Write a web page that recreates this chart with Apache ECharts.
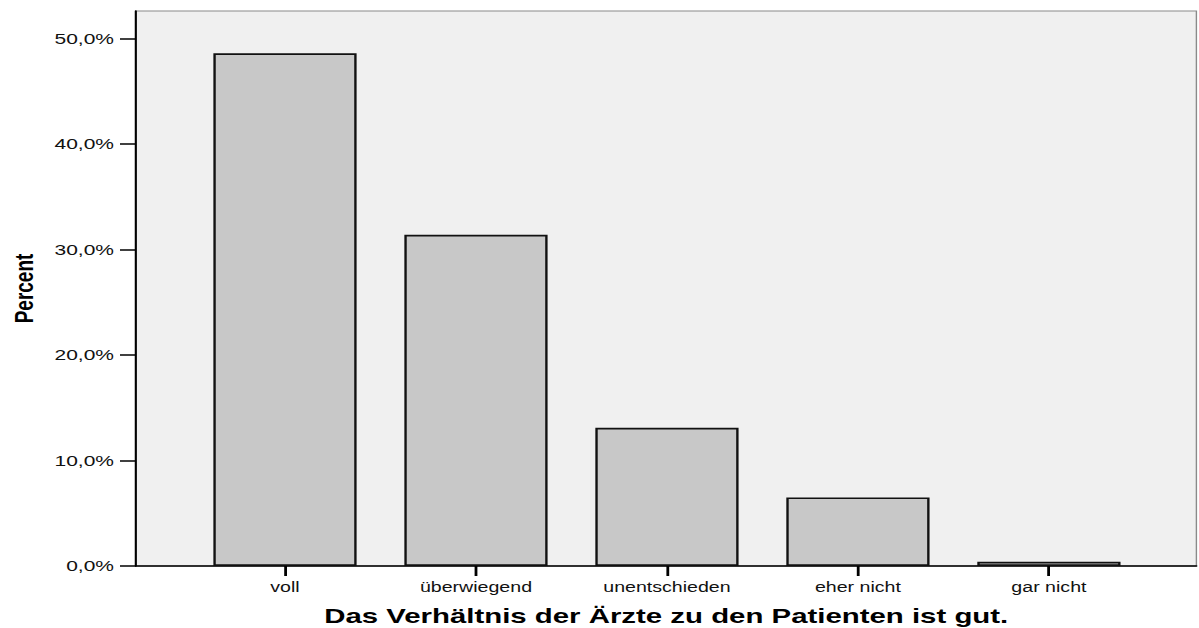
<!DOCTYPE html>
<html>
<head>
<meta charset="utf-8">
<script src="https://cdn.jsdelivr.net/npm/echarts@6/dist/echarts.min.js"></script>
<style>
  html, body { margin: 0; padding: 0; background: #fff; overflow: hidden; }
  /* Die Vorlage ist horizontal gestreckt, daher wird das ganze Diagramm gestreckt */
  #chart { width: 856.43px; height: 628px; transform-origin: 0 0; transform: scaleX(1.4); }
</style>
</head>
<body>
<div id="chart"></div>
<script>
// Antwortkategorien und Prozentwerte
const categories = ['voll', 'überwiegend', 'unentschieden', 'eher nicht', 'gar nicht'];
const percentValues = [48.6, 31.4, 13.1, 6.5, 0.4];
const yTicks = [0, 10, 20, 30, 40, 50];

const xTitle = 'Das Verhältnis der Ärzte zu den Patienten ist gut.';
const yTitle = 'Percent';

const S = 1.4;          // horizontaler Streckfaktor
const W = 1199 / S;     // ungestreckte Breite
const yMax = 52.6;
const fontMain = 'Liberation Sans, Arial, sans-serif';

const chart = echarts.init(document.getElementById('chart'), null, { renderer: 'svg' });

const option = {
  animation: false,
  grid: [
    // Rahmen mit Hintergrund und y-Achse
    {
      left: 136 / S, right: W - 1197 / S, top: 11, bottom: 62,
      containLabel: false,
      outerBoundsMode: 'none',
      show: true,
      backgroundColor: '#f0f0f0',
      borderColor: '#8a8a8a',
      borderWidth: 1
    },
    // innerer Bereich für die Balken
    {
      left: 189.5 / S, right: W - 1145 / S, top: 11, bottom: 62,
      containLabel: false,
      outerBoundsMode: 'none'
    }
  ],
  xAxis: [
    {
      gridIndex: 0,
      type: 'value',
      min: 0, max: 1,
      axisLine: { show: true, onZero: false, lineStyle: { color: '#000', width: 1.5 } },
      axisTick: { show: false },
      axisLabel: { show: false },
      splitLine: { show: false },
      name: xTitle,
      nameLocation: 'middle',
      nameGap: 39,
      nameTextStyle: { fontFamily: fontMain, fontSize: 21, fontWeight: 'bold', color: '#000' }
    },
    {
      gridIndex: 1,
      type: 'category',
      data: categories,
      axisLine: { show: false },
      axisTick: { show: true, alignWithLabel: true, length: 10, lineStyle: { color: '#000', width: 2 } },
      axisLabel: { margin: 14, fontFamily: fontMain, fontSize: 14, color: '#111' }
    }
  ],
  yAxis: [
    {
      gridIndex: 0,
      type: 'value',
      min: 0,
      max: yMax,
      interval: 10,
      axisLine: { show: true, lineStyle: { color: '#000', width: 1.5 } },
      axisTick: { show: true, length: 16 / S, lineStyle: { color: '#000', width: 1.5 } },
      axisLabel: {
        margin: 22 / S,
        showMaxLabel: false,
        fontFamily: fontMain,
        fontSize: 15,
        color: '#111',
        formatter: v => yTicks.includes(v) ? v.toFixed(1).replace('.', ',') + '%' : ''
      },
      splitLine: { show: false },
      name: yTitle,
      nameLocation: 'middle',
      nameGap: 71,
      nameRotate: 90,
      nameTextStyle: { fontFamily: fontMain, fontSize: 19, fontWeight: 'bold', color: '#000' }
    },
    {
      gridIndex: 1,
      type: 'value',
      min: 0,
      max: yMax,
      show: false
    }
  ],
  series: [
    {
      type: 'bar',
      xAxisIndex: 1,
      yAxisIndex: 1,
      data: percentValues,
      barWidth: '75%',
      itemStyle: {
        color: '#c8c8c8',
        borderColor: '#111',
        borderWidth: 1.7
      }
    }
  ]
};

chart.setOption(option);
</script>
</body>
</html>
